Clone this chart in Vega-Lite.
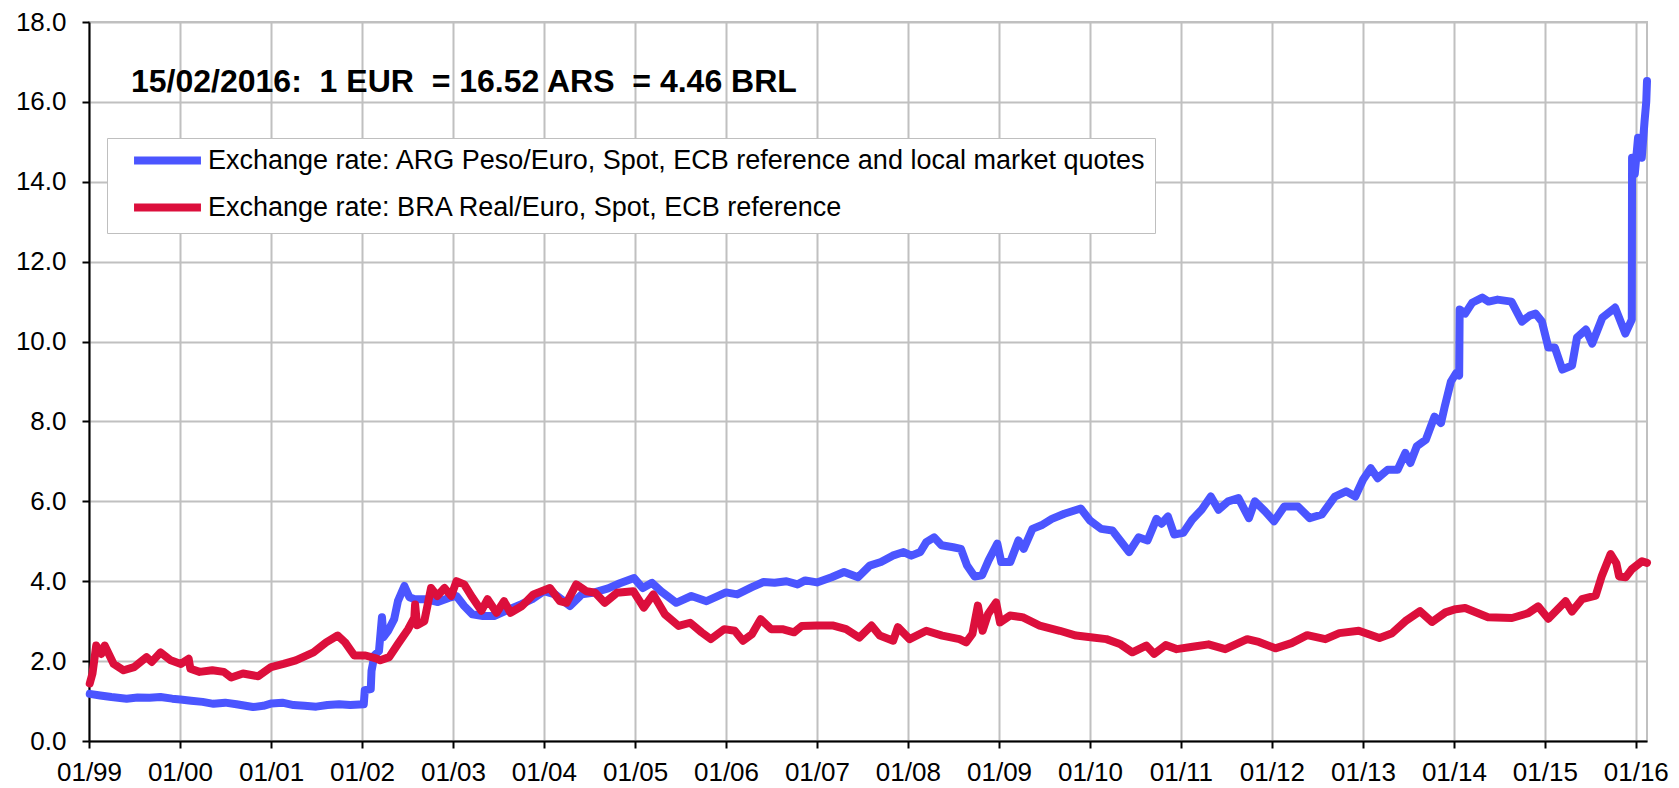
{
  "$schema": "https://vega.github.io/schema/vega-lite/v6.json",
  "autosize": "none",
  "width": 1558,
  "height": 719,
  "padding": {"left": 89, "top": 22, "right": 32, "bottom": 47},
  "background": "white",
  "config": {
    "font": "Liberation Sans",
    "view": {"stroke": "#C0C0C0", "strokeWidth": 2}
  },
  "title": {
    "text": "15/02/2016:\u00a0 1 EUR\u00a0 = 16.52 ARS\u00a0 = 4.46 BRL",
    "anchor": "start",
    "frame": "group",
    "orient": "top",
    "offset": 0,
    "dx": 42,
    "dy": 115,
    "baseline": "alphabetic",
    "font": "Liberation Sans",
    "fontSize": 32,
    "fontWeight": "bold",
    "color": "black"
  },
  "datasets": {
    "ars": [
      {"date": "1999-01-04", "value": 1.18}, {"date": "1999-02-15", "value": 1.14}, {"date": "1999-04-01", "value": 1.10}, {"date": "1999-06-01", "value": 1.06},
      {"date": "1999-07-15", "value": 1.09}, {"date": "1999-09-01", "value": 1.08}, {"date": "1999-10-15", "value": 1.10}, {"date": "1999-12-01", "value": 1.06},
      {"date": "2000-01-03", "value": 1.04}, {"date": "2000-02-15", "value": 1.01}, {"date": "2000-04-01", "value": 0.98}, {"date": "2000-05-15", "value": 0.93},
      {"date": "2000-07-01", "value": 0.96}, {"date": "2000-08-15", "value": 0.92}, {"date": "2000-10-20", "value": 0.85}, {"date": "2000-12-01", "value": 0.88},
      {"date": "2001-01-03", "value": 0.94}, {"date": "2001-02-15", "value": 0.96}, {"date": "2001-04-01", "value": 0.90}, {"date": "2001-05-15", "value": 0.88},
      {"date": "2001-07-01", "value": 0.86}, {"date": "2001-08-15", "value": 0.90}, {"date": "2001-10-01", "value": 0.92}, {"date": "2001-11-15", "value": 0.90},
      {"date": "2002-01-08", "value": 0.92}, {"date": "2002-01-12", "value": 1.27}, {"date": "2002-02-05", "value": 1.30}, {"date": "2002-02-08", "value": 1.75},
      {"date": "2002-02-20", "value": 2.15}, {"date": "2002-03-10", "value": 2.25}, {"date": "2002-03-22", "value": 3.10}, {"date": "2002-03-28", "value": 2.60},
      {"date": "2002-04-15", "value": 2.75}, {"date": "2002-05-10", "value": 3.05}, {"date": "2002-05-25", "value": 3.50}, {"date": "2002-06-20", "value": 3.88},
      {"date": "2002-07-10", "value": 3.60}, {"date": "2002-08-01", "value": 3.55}, {"date": "2002-09-15", "value": 3.55}, {"date": "2002-11-01", "value": 3.48},
      {"date": "2002-12-15", "value": 3.58}, {"date": "2003-01-15", "value": 3.63}, {"date": "2003-02-15", "value": 3.38}, {"date": "2003-03-20", "value": 3.17},
      {"date": "2003-05-01", "value": 3.13}, {"date": "2003-06-15", "value": 3.13}, {"date": "2003-08-01", "value": 3.26}, {"date": "2003-10-01", "value": 3.42},
      {"date": "2003-11-15", "value": 3.55}, {"date": "2004-01-01", "value": 3.75}, {"date": "2004-02-15", "value": 3.67}, {"date": "2004-04-15", "value": 3.38},
      {"date": "2004-06-01", "value": 3.67}, {"date": "2004-07-15", "value": 3.71}, {"date": "2004-09-15", "value": 3.82}, {"date": "2004-11-01", "value": 3.95},
      {"date": "2004-12-28", "value": 4.08}, {"date": "2005-02-01", "value": 3.83}, {"date": "2005-03-10", "value": 3.96}, {"date": "2005-04-15", "value": 3.75},
      {"date": "2005-06-15", "value": 3.46}, {"date": "2005-08-15", "value": 3.63}, {"date": "2005-10-15", "value": 3.50}, {"date": "2006-01-01", "value": 3.72},
      {"date": "2006-02-15", "value": 3.67}, {"date": "2006-04-15", "value": 3.85}, {"date": "2006-06-01", "value": 3.98}, {"date": "2006-07-15", "value": 3.96},
      {"date": "2006-09-01", "value": 4.00}, {"date": "2006-10-15", "value": 3.92}, {"date": "2006-11-15", "value": 4.02}, {"date": "2007-01-01", "value": 3.97},
      {"date": "2007-03-01", "value": 4.10}, {"date": "2007-04-20", "value": 4.23}, {"date": "2007-06-15", "value": 4.10}, {"date": "2007-08-01", "value": 4.39},
      {"date": "2007-09-15", "value": 4.48}, {"date": "2007-11-01", "value": 4.64}, {"date": "2007-12-15", "value": 4.73}, {"date": "2008-01-15", "value": 4.64},
      {"date": "2008-02-20", "value": 4.73}, {"date": "2008-03-15", "value": 4.98}, {"date": "2008-04-15", "value": 5.10}, {"date": "2008-05-15", "value": 4.90},
      {"date": "2008-07-01", "value": 4.85}, {"date": "2008-08-01", "value": 4.81}, {"date": "2008-08-25", "value": 4.40}, {"date": "2008-09-25", "value": 4.12},
      {"date": "2008-10-25", "value": 4.15}, {"date": "2008-11-20", "value": 4.52}, {"date": "2008-12-25", "value": 4.94}, {"date": "2009-01-10", "value": 4.48},
      {"date": "2009-02-15", "value": 4.48}, {"date": "2009-03-20", "value": 5.02}, {"date": "2009-04-10", "value": 4.81}, {"date": "2009-05-15", "value": 5.31},
      {"date": "2009-06-20", "value": 5.40}, {"date": "2009-08-01", "value": 5.56}, {"date": "2009-09-20", "value": 5.69}, {"date": "2009-11-25", "value": 5.82},
      {"date": "2010-01-01", "value": 5.52}, {"date": "2010-02-15", "value": 5.31}, {"date": "2010-04-01", "value": 5.27}, {"date": "2010-06-07", "value": 4.73},
      {"date": "2010-07-15", "value": 5.10}, {"date": "2010-08-20", "value": 5.02}, {"date": "2010-09-25", "value": 5.56}, {"date": "2010-10-15", "value": 5.44},
      {"date": "2010-11-10", "value": 5.62}, {"date": "2010-12-05", "value": 5.17}, {"date": "2011-01-10", "value": 5.21}, {"date": "2011-02-15", "value": 5.54},
      {"date": "2011-03-25", "value": 5.79}, {"date": "2011-05-01", "value": 6.12}, {"date": "2011-06-01", "value": 5.79}, {"date": "2011-07-10", "value": 6.00},
      {"date": "2011-08-20", "value": 6.08}, {"date": "2011-10-01", "value": 5.58}, {"date": "2011-10-25", "value": 6.00}, {"date": "2011-12-05", "value": 5.75},
      {"date": "2012-01-10", "value": 5.50}, {"date": "2012-02-20", "value": 5.87}, {"date": "2012-04-15", "value": 5.87}, {"date": "2012-06-01", "value": 5.58},
      {"date": "2012-07-20", "value": 5.67}, {"date": "2012-09-10", "value": 6.12}, {"date": "2012-10-25", "value": 6.25}, {"date": "2012-12-01", "value": 6.12},
      {"date": "2013-01-01", "value": 6.54}, {"date": "2013-02-01", "value": 6.83}, {"date": "2013-03-01", "value": 6.58}, {"date": "2013-04-10", "value": 6.79},
      {"date": "2013-05-20", "value": 6.79}, {"date": "2013-06-20", "value": 7.21}, {"date": "2013-07-10", "value": 6.96}, {"date": "2013-08-05", "value": 7.38},
      {"date": "2013-09-10", "value": 7.54}, {"date": "2013-10-15", "value": 8.12}, {"date": "2013-11-10", "value": 7.96}, {"date": "2013-11-25", "value": 8.37},
      {"date": "2013-12-20", "value": 9.00}, {"date": "2014-01-10", "value": 9.21}, {"date": "2014-01-22", "value": 9.15}, {"date": "2014-01-24", "value": 10.80},
      {"date": "2014-02-15", "value": 10.70}, {"date": "2014-03-15", "value": 10.97}, {"date": "2014-04-25", "value": 11.10}, {"date": "2014-05-20", "value": 11.00},
      {"date": "2014-06-25", "value": 11.05}, {"date": "2014-08-20", "value": 11.00}, {"date": "2014-09-10", "value": 10.75}, {"date": "2014-10-01", "value": 10.50},
      {"date": "2014-11-01", "value": 10.65}, {"date": "2014-11-25", "value": 10.70}, {"date": "2014-12-20", "value": 10.50}, {"date": "2015-01-15", "value": 9.85},
      {"date": "2015-02-10", "value": 9.85}, {"date": "2015-03-12", "value": 9.30}, {"date": "2015-04-20", "value": 9.40}, {"date": "2015-05-10", "value": 10.10},
      {"date": "2015-06-15", "value": 10.30}, {"date": "2015-07-10", "value": 9.95}, {"date": "2015-08-20", "value": 10.60}, {"date": "2015-10-10", "value": 10.85},
      {"date": "2015-11-20", "value": 10.20}, {"date": "2015-12-16", "value": 10.55}, {"date": "2015-12-17", "value": 14.60}, {"date": "2015-12-28", "value": 14.20},
      {"date": "2016-01-10", "value": 15.10}, {"date": "2016-01-25", "value": 14.60}, {"date": "2016-02-05", "value": 15.50}, {"date": "2016-02-12", "value": 16.00},
      {"date": "2016-02-15", "value": 16.52}
    ],
    "brl": [
      {"date": "1999-01-04", "value": 1.44}, {"date": "1999-01-15", "value": 1.69}, {"date": "1999-01-30", "value": 2.39}, {"date": "1999-02-20", "value": 2.18},
      {"date": "1999-03-05", "value": 2.39}, {"date": "1999-04-10", "value": 1.93}, {"date": "1999-05-20", "value": 1.77}, {"date": "1999-07-01", "value": 1.85},
      {"date": "1999-08-20", "value": 2.10}, {"date": "1999-09-10", "value": 1.98}, {"date": "1999-10-15", "value": 2.22}, {"date": "1999-11-25", "value": 2.02},
      {"date": "2000-01-05", "value": 1.93}, {"date": "2000-02-05", "value": 2.06}, {"date": "2000-02-12", "value": 1.81}, {"date": "2000-03-20", "value": 1.73},
      {"date": "2000-05-10", "value": 1.77}, {"date": "2000-06-25", "value": 1.73}, {"date": "2000-07-25", "value": 1.59}, {"date": "2000-09-10", "value": 1.69},
      {"date": "2000-11-10", "value": 1.62}, {"date": "2001-01-01", "value": 1.85}, {"date": "2001-02-20", "value": 1.93}, {"date": "2001-04-10", "value": 2.02},
      {"date": "2001-06-20", "value": 2.22}, {"date": "2001-08-10", "value": 2.47}, {"date": "2001-09-25", "value": 2.64}, {"date": "2001-10-25", "value": 2.47},
      {"date": "2001-12-01", "value": 2.14}, {"date": "2002-01-15", "value": 2.14}, {"date": "2002-03-01", "value": 2.06}, {"date": "2002-03-15", "value": 2.02},
      {"date": "2002-04-20", "value": 2.10}, {"date": "2002-05-25", "value": 2.43}, {"date": "2002-07-05", "value": 2.80}, {"date": "2002-07-30", "value": 3.09},
      {"date": "2002-08-02", "value": 3.42}, {"date": "2002-08-10", "value": 2.90}, {"date": "2002-09-08", "value": 3.00}, {"date": "2002-10-05", "value": 3.83},
      {"date": "2002-10-30", "value": 3.63}, {"date": "2002-11-28", "value": 3.83}, {"date": "2002-12-25", "value": 3.63}, {"date": "2003-01-15", "value": 4.00},
      {"date": "2003-02-15", "value": 3.92}, {"date": "2003-03-20", "value": 3.59}, {"date": "2003-04-25", "value": 3.26}, {"date": "2003-05-20", "value": 3.55},
      {"date": "2003-06-25", "value": 3.21}, {"date": "2003-07-25", "value": 3.50}, {"date": "2003-08-20", "value": 3.21}, {"date": "2003-10-05", "value": 3.38},
      {"date": "2003-11-20", "value": 3.67}, {"date": "2004-01-25", "value": 3.83}, {"date": "2004-03-05", "value": 3.50}, {"date": "2004-04-01", "value": 3.46},
      {"date": "2004-05-10", "value": 3.92}, {"date": "2004-06-20", "value": 3.75}, {"date": "2004-07-25", "value": 3.71}, {"date": "2004-09-01", "value": 3.46},
      {"date": "2004-10-20", "value": 3.71}, {"date": "2004-12-25", "value": 3.75}, {"date": "2005-02-05", "value": 3.34}, {"date": "2005-03-15", "value": 3.67},
      {"date": "2005-05-01", "value": 3.17}, {"date": "2005-06-25", "value": 2.88}, {"date": "2005-08-10", "value": 2.96}, {"date": "2005-09-25", "value": 2.72},
      {"date": "2005-11-01", "value": 2.55}, {"date": "2005-12-25", "value": 2.80}, {"date": "2006-02-05", "value": 2.76}, {"date": "2006-03-10", "value": 2.51},
      {"date": "2006-04-15", "value": 2.67}, {"date": "2006-05-20", "value": 3.05}, {"date": "2006-07-01", "value": 2.80}, {"date": "2006-08-15", "value": 2.80},
      {"date": "2006-10-01", "value": 2.72}, {"date": "2006-11-01", "value": 2.88}, {"date": "2007-01-01", "value": 2.89}, {"date": "2007-03-08", "value": 2.89},
      {"date": "2007-04-28", "value": 2.80}, {"date": "2007-06-20", "value": 2.59}, {"date": "2007-08-08", "value": 2.89}, {"date": "2007-09-10", "value": 2.64},
      {"date": "2007-11-03", "value": 2.51}, {"date": "2007-11-22", "value": 2.85}, {"date": "2008-01-08", "value": 2.55}, {"date": "2008-03-15", "value": 2.76},
      {"date": "2008-05-18", "value": 2.64}, {"date": "2008-07-26", "value": 2.55}, {"date": "2008-08-22", "value": 2.47}, {"date": "2008-09-16", "value": 2.68},
      {"date": "2008-10-08", "value": 3.39}, {"date": "2008-10-27", "value": 2.76}, {"date": "2008-11-18", "value": 3.18}, {"date": "2008-12-20", "value": 3.47},
      {"date": "2009-01-05", "value": 2.97}, {"date": "2009-02-14", "value": 3.14}, {"date": "2009-04-05", "value": 3.10}, {"date": "2009-06-13", "value": 2.89},
      {"date": "2009-09-02", "value": 2.76}, {"date": "2009-11-06", "value": 2.64}, {"date": "2010-01-12", "value": 2.59}, {"date": "2010-03-08", "value": 2.55},
      {"date": "2010-05-01", "value": 2.43}, {"date": "2010-06-20", "value": 2.22}, {"date": "2010-08-15", "value": 2.39}, {"date": "2010-09-16", "value": 2.18},
      {"date": "2010-11-01", "value": 2.40}, {"date": "2010-12-15", "value": 2.30}, {"date": "2011-02-17", "value": 2.36}, {"date": "2011-04-22", "value": 2.42},
      {"date": "2011-06-28", "value": 2.30}, {"date": "2011-09-24", "value": 2.55}, {"date": "2011-11-10", "value": 2.48}, {"date": "2012-01-15", "value": 2.32},
      {"date": "2012-03-20", "value": 2.45}, {"date": "2012-05-22", "value": 2.65}, {"date": "2012-08-03", "value": 2.55}, {"date": "2012-09-28", "value": 2.70},
      {"date": "2012-12-15", "value": 2.76}, {"date": "2013-03-08", "value": 2.58}, {"date": "2013-04-28", "value": 2.70}, {"date": "2013-06-20", "value": 3.00},
      {"date": "2013-08-18", "value": 3.25}, {"date": "2013-10-05", "value": 2.98}, {"date": "2013-11-28", "value": 3.22}, {"date": "2014-01-08", "value": 3.30},
      {"date": "2014-02-15", "value": 3.33}, {"date": "2014-05-18", "value": 3.10}, {"date": "2014-08-22", "value": 3.08}, {"date": "2014-10-26", "value": 3.20},
      {"date": "2014-12-05", "value": 3.37}, {"date": "2015-01-15", "value": 3.06}, {"date": "2015-03-25", "value": 3.50}, {"date": "2015-04-20", "value": 3.24},
      {"date": "2015-05-30", "value": 3.55}, {"date": "2015-07-24", "value": 3.64}, {"date": "2015-08-18", "value": 4.14}, {"date": "2015-09-22", "value": 4.68},
      {"date": "2015-10-15", "value": 4.45}, {"date": "2015-10-26", "value": 4.12}, {"date": "2015-11-22", "value": 4.10}, {"date": "2015-12-16", "value": 4.30},
      {"date": "2016-01-26", "value": 4.50}, {"date": "2016-02-15", "value": 4.46}
    ]
  },
  "layer": [
    {
      "data": {"name": "ars"},
      "transform": [{"calculate": "'Exchange rate: ARG Peso/Euro, Spot, ECB reference and local market quotes'", "as": "series"}],
      "mark": {"type": "line", "strokeWidth": 8, "strokeCap": "round", "strokeJoin": "round"},
      "encoding": {
        "x": {"field": "date", "type": "temporal"},
        "y": {"field": "value", "type": "quantitative"},
        "color": {"field": "series", "type": "nominal"}
      }
    },
    {
      "data": {"name": "brl"},
      "transform": [{"calculate": "'Exchange rate: BRA Real/Euro, Spot, ECB reference'", "as": "series"}],
      "mark": {"type": "line", "strokeWidth": 8, "strokeCap": "round", "strokeJoin": "round"},
      "encoding": {
        "x": {"field": "date", "type": "temporal"},
        "y": {"field": "value", "type": "quantitative"},
        "color": {"field": "series", "type": "nominal"}
      }
    }
  ],
  "encoding": {
    "x": {
      "field": "date",
      "type": "temporal",
      "scale": {"type": "utc", "domain": [{"year": 1999, "month": 1, "date": 1, "utc": true}, {"year": 2016, "month": 2, "date": 15, "utc": true}], "nice": false},
      "axis": {
        "title": null,
        "format": "%m/%y",
        "tickCount": {"interval": "year", "step": 1},
        "labelFontSize": 26,
        "labelColor": "black",
        "labelPadding": 11,
        "labelFlush": false,
        "labelOverlap": false,
        "labelBound": false,
        "grid": true,
        "gridColor": "#C0C0C0",
        "gridWidth": 2,
        "domainColor": "black",
        "domainWidth": 2,
        "tickColor": "black",
        "tickWidth": 2,
        "tickSize": 7
      }
    },
    "y": {
      "field": "value",
      "type": "quantitative",
      "scale": {"domain": [0, 18], "nice": false},
      "axis": {
        "title": null,
        "values": [0, 2, 4, 6, 8, 10, 12, 14, 16, 18],
        "format": ".1f",
        "labelFontSize": 26,
        "labelColor": "black",
        "labelPadding": 16,
        "labelOverlap": false,
        "labelBound": false,
        "grid": true,
        "gridColor": "#C0C0C0",
        "gridWidth": 2,
        "domainColor": "black",
        "domainWidth": 2,
        "tickColor": "black",
        "tickWidth": 2,
        "tickSize": 7
      }
    },
    "color": {
      "field": "series",
      "type": "nominal",
      "scale": {
        "domain": ["Exchange rate: ARG Peso/Euro, Spot, ECB reference and local market quotes", "Exchange rate: BRA Real/Euro, Spot, ECB reference"],
        "range": ["#4B55FF", "#DC0F3C"]
      },
      "legend": {
        "title": null,
        "orient": "none",
        "legendX": 18,
        "legendY": 116,
        "symbolType": "M-4,0H4",
        "symbolSize": 280,
        "symbolStrokeWidth": 8,
        "symbolOffset": 38,
        "labelOffset": 27,
        "labelFontSize": 27,
        "labelColor": "black",
        "labelLimit": 2000,
        "rowPadding": 14,
        "padding": 9,
        "fillColor": "white",
        "strokeColor": "#BFBFBF"
      }
    }
  }
}
